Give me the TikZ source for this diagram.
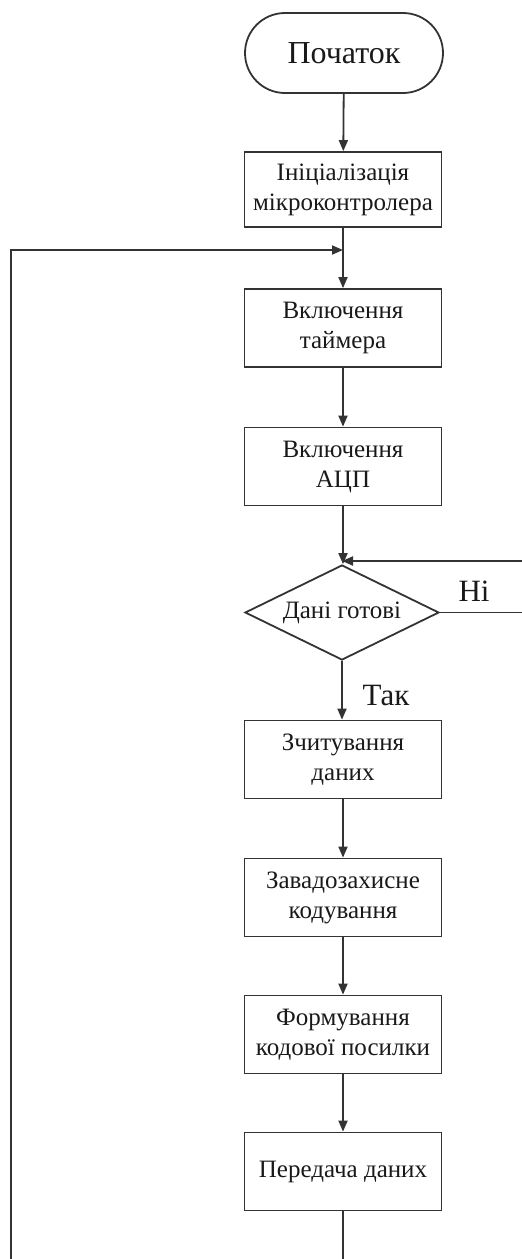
\documentclass[tikz,border=0pt]{standalone}
\usepackage{fontspec}
\setmainfont{Liberation Serif}
\usetikzlibrary{shapes.geometric,arrows.meta}
\begin{document}
\begin{tikzpicture}[x=1pt,y=-1pt,
  every node/.style={text=black!90},
  proc/.style={draw=black!80,line width=1.8pt,rectangle,minimum width=197pt,minimum height=78pt,inner sep=2pt,align=center,font=\fontsize{25}{30}\selectfont},
  term/.style={draw=black!80,line width=1.8pt,rectangle,rounded corners=40pt,minimum width=198pt,minimum height=80pt,font=\fontsize{32}{36}\selectfont},
  decision/.style={draw=black!80,line width=1.8pt,diamond,aspect=2.04,minimum width=194pt,minimum height=95pt,inner sep=0pt,font=\fontsize{25}{30}\selectfont},
  lbl/.style={font=\fontsize{31}{34}\selectfont,inner sep=0pt},
  conn/.style={draw=black!80,line width=1.8pt},
  arr/.style={conn,-{Triangle[length=11pt,width=9pt]}}]
\useasboundingbox (0,0) rectangle (522,1259);
\node[term] (start) at (344,53) {Початок};
\node[proc,minimum height=75pt] (init) at (343,189.5) {Ініціалізація\\мікроконтролера};
\node[proc] (timer) at (343,328) {Включення\\таймера};
\node[proc] (adc) at (343,466.5) {Включення\\АЦП};
\node[decision] (ready) at (342,612.5) {Дані готові};
\node[proc] (read) at (343,759.5) {Зчитування\\даних};
\node[proc] (code) at (343,897.5) {Завадозахисне\\кодування};
\node[proc] (form) at (343,1034.5) {Формування\\кодової посилки};
\node[proc] (send) at (343,1171.5) {Передача даних};
\node[lbl] (no) at (474,591) {Ні};
\node[lbl] (yes) at (386,695) {Так};
\coordinate (j1) at (343,250);
\coordinate (j2) at (342,561);
\coordinate (lb) at (11,1259);
\coordinate (rb) at (522,561);
\coordinate (rn) at (522,612.5);
\coordinate (bot) at (343,1259);
\draw[arr] (start) -- (init);
\draw[arr] (init) -- (timer);
\draw[arr] (lb) |- (j1);
\draw[arr] (timer) -- (adc);
\draw[arr] (adc.south) -- (adc.south |- ready.north);
\draw[arr] (rb) -- (j2);
\draw[conn] (ready.east) -- (rn);
\draw[arr] (ready.south) -- (ready.south |- read.north);
\draw[arr] (read) -- (code);
\draw[arr] (code) -- (form);
\draw[arr] (form) -- (send);
\draw[conn] (send.south) -- (bot);
\end{tikzpicture}
\end{document}
